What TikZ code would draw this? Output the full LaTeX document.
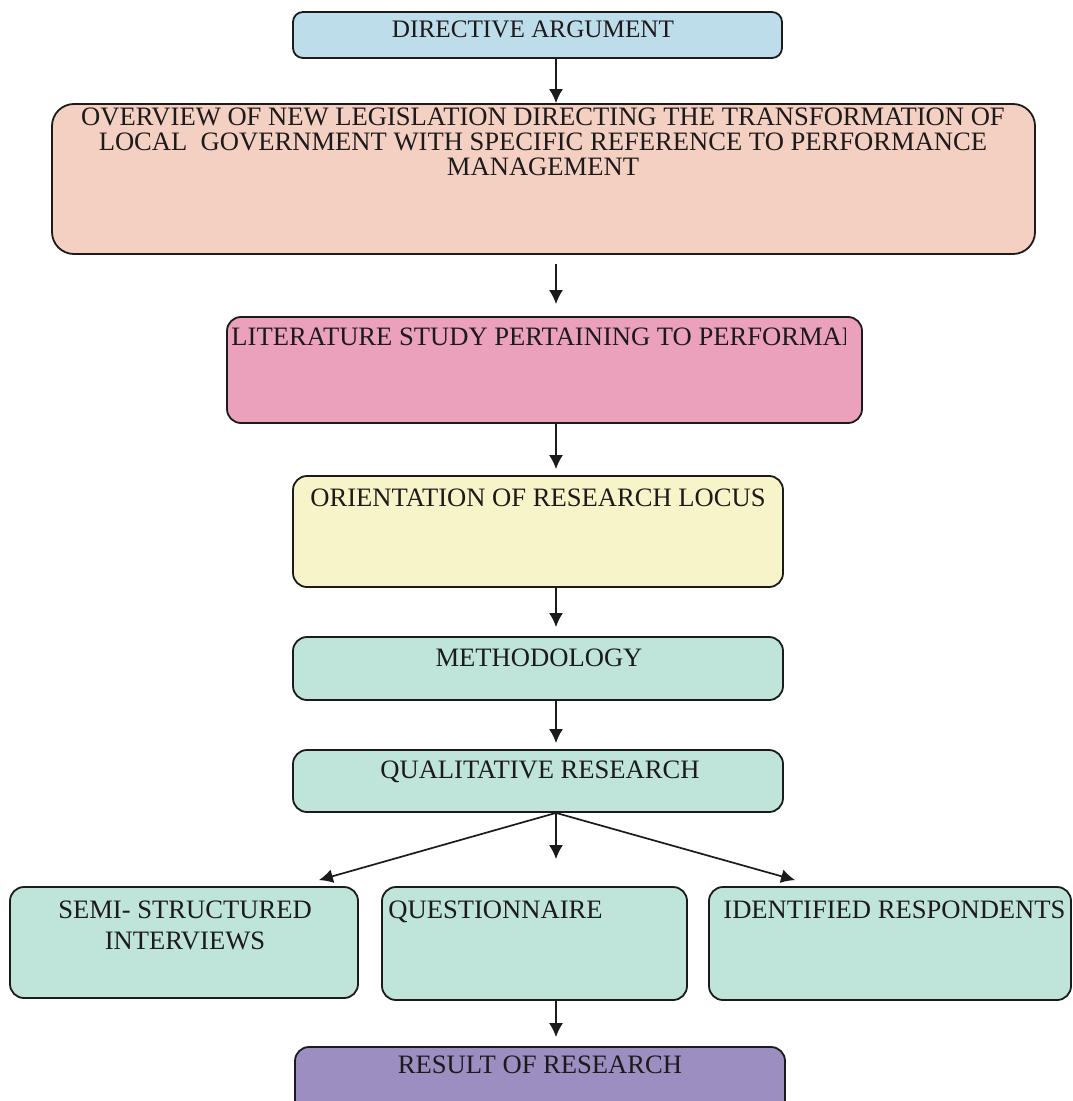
\documentclass[tikz,border=0pt]{standalone}
\usepackage{fontspec}
\setmainfont{Liberation Serif}
\usetikzlibrary{arrows.meta,fit,calc}

\definecolor{dirblue}{HTML}{BEDDEA}
\definecolor{ovpeach}{HTML}{F4D0C3}
\definecolor{litpink}{HTML}{EBA1BB}
\definecolor{oriyellow}{HTML}{F8F4C9}
\definecolor{stepteal}{HTML}{BFE4D9}
\definecolor{respurple}{HTML}{9C8EC0}
\definecolor{ink}{HTML}{1C1A1A}

\begin{document}
\begin{tikzpicture}[x=0.5pt,y=-0.5pt,
  box/.style={draw=ink, line width=0.9pt, rounded corners=7pt, inner sep=0pt},
  lbl/.style={text=ink, inner sep=0pt, font=\fontsize{13.3}{15.5}\selectfont},
  arr/.style={draw=ink, line width=0.85pt, -{Latex[length=7pt,width=7pt]}},
]
\useasboundingbox (0,0) rectangle (1072,1101);
\clip (0,0) rectangle (1072,1101);

% boxes
\node[box, fill=dirblue, rounded corners=5pt, fit={(293,12)(782,58)}] (dir) {};
\node[box, fill=ovpeach, rounded corners=11pt, fit={(52,104)(1035,254)}] (ov) {};
\node[box, fill=litpink, fit={(227,317)(862,423)}] (lit) {};
\node[box, fill=oriyellow, fit={(293,476)(783,587)}] (ori) {};
\node[box, fill=stepteal, fit={(293,637)(783,700)}] (meth) {};
\node[box, fill=stepteal, fit={(293,750)(783,812)}] (qual) {};
\node[box, fill=stepteal, fit={(10,887)(358,998)}] (semi) {};
\node[box, fill=stepteal, fit={(382,887)(687,1000)}] (quest) {};
\node[box, fill=stepteal, fit={(709,887)(1071,1000)}] (ident) {};
\node[box, fill=respurple, fit={(295,1047)(785,1130)}] (res) {};

% texts (multi-line nodes are anchored at the baseline of their last line)
\node[lbl, anchor=base, font=\fontsize{12.6}{15}\selectfont] (dirT) at (533,38) {DIRECTIVE ARGUMENT};
\node[lbl, anchor=base, align=center, font=\fontsize{13.3}{12.5}\selectfont] (ovT) at (543,176)
  {OVERVIEW OF NEW LEGISLATION DIRECTING THE TRANSFORMATION OF\\
   LOCAL\ \ GOVERNMENT WITH SPECIFIC REFERENCE TO PERFORMANCE\\
   MANAGEMENT};
\begin{scope}
  \clip (227,300) rectangle (845,430);
  \node[lbl, anchor=base west] (litT) at (231,345) {LITERATURE STUDY PERTAINING TO PERFORMANCE};
\end{scope}
\node[lbl, anchor=base] (oriT) at (538,506) {ORIENTATION OF RESEARCH LOCUS};
\node[lbl, anchor=base] (methT) at (539,666) {METHODOLOGY};
\node[lbl, anchor=base] (qualT) at (540,778) {QUALITATIVE RESEARCH};
\node[lbl, anchor=base, align=center] (semiT) at (185,949) {SEMI- STRUCTURED\\INTERVIEWS};
\node[lbl, anchor=base west] (questT) at (388,918) {QUESTIONNAIRE};
\node[lbl, anchor=base west] (identT) at (723,918) {IDENTIFIED RESPONDENTS};
\node[lbl, anchor=base] (resT) at (540,1073) {RESULT OF RESEARCH};

% connectors
\coordinate (ax) at (556,0);
\coordinate (semiIn) at ($(semi.north east)+(-40,-6)$);
\coordinate (identIn) at ($(ident.north west)+(87,-6)$);

\draw[arr] (dir.south -| ax) -- (ov.north -| ax);
\draw[arr, shorten <=4.5pt, shorten >=6pt] (ov.south -| ax) -- (lit.north -| ax);
\draw[arr, shorten >=3pt] (lit.south -| ax) -- (ori.north -| ax);
\draw[arr, shorten >=4.5pt] (ori.south -| ax) -- (meth.north -| ax);
\draw[arr, shorten >=3pt] (meth.south -| ax) -- (qual.north -| ax);
\draw[arr, shorten >=13.5pt] (qual.south -| ax) -- (quest.north -| ax);
\draw[arr] (qual.south -| ax) -- (semiIn);
\draw[arr] (qual.south -| ax) -- (identIn);
\draw[arr, shorten >=4.5pt] (quest.south -| ax) -- (res.north -| ax);
\end{tikzpicture}
\end{document}
